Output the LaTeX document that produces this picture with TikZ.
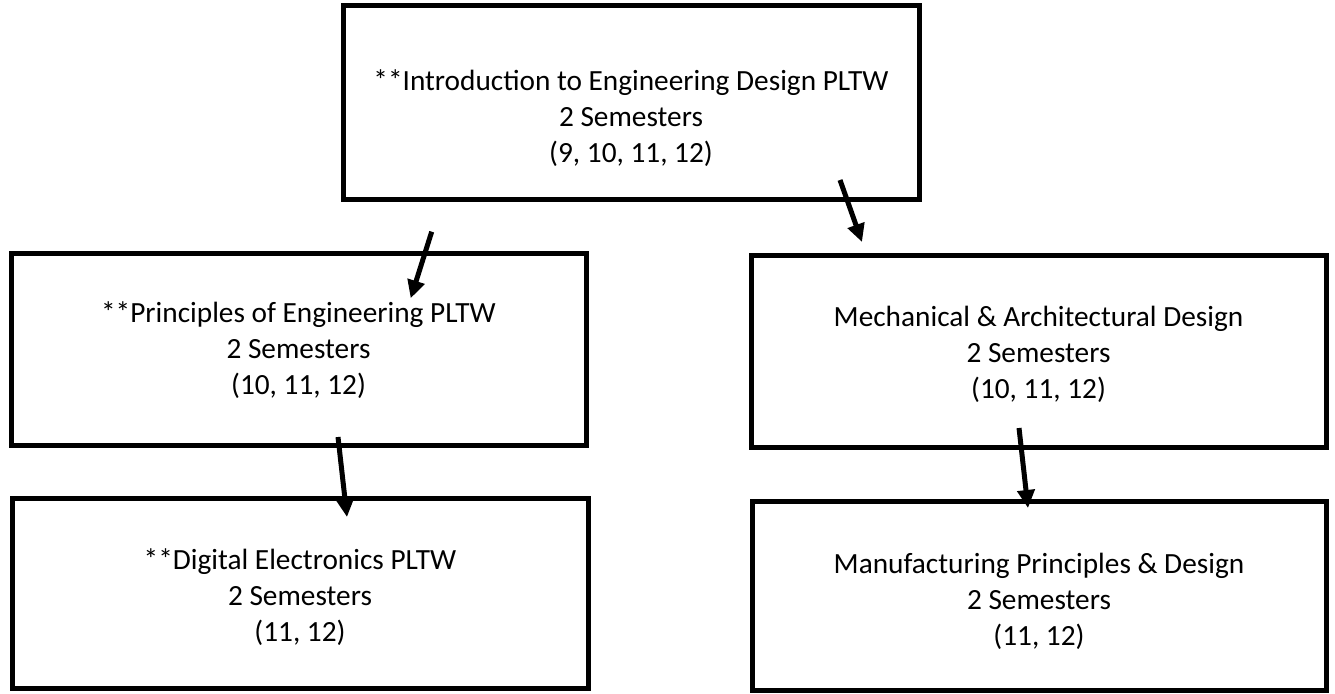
\documentclass[tikz,border=0pt]{standalone}
\usepackage{fontspec}
\setmainfont{Carlito}
\usetikzlibrary{arrows.meta}
\begin{document}
\begin{tikzpicture}[x=1pt,y=-1pt,
  box/.style={draw, line width=5pt, rectangle, inner sep=0pt},
  lbl/.style={align=center, font=\fontsize{29.3}{36}\selectfont, inner sep=0pt},
  conn/.style={line width=5pt, -{Triangle[length=18pt,width=17pt]}}]
\useasboundingbox (0,0) rectangle (1335,693);
% boxes
\node[box, minimum width=576pt, minimum height=193pt] (top) at (631,102.5) {};
\node[box, minimum width=575pt, minimum height=192pt] (midL) at (298.5,349) {};
\node[box, minimum width=575pt, minimum height=192pt] (midR) at (1038.5,351) {};
\node[box, minimum width=576pt, minimum height=190pt] (botL) at (300,593) {};
\node[box, minimum width=574pt, minimum height=189pt] (botR) at (1039,595.5) {};
% texts
\node[lbl] (tTop) at (631,118) {**Introduction to Engineering Design PLTW\\2 Semesters\\(9, 10, 11, 12)};
\node[lbl] (tMidL) at (298.5,350) {**Principles of Engineering PLTW\\2 Semesters\\(10, 11, 12)};
\node[lbl] (tMidR) at (1038.5,354) {Mechanical \& Architectural Design\\2 Semesters\\(10, 11, 12)};
\node[lbl] (tBotL) at (300,597) {**Digital Electronics PLTW\\2 Semesters\\(11, 12)};
\node[lbl] (tBotR) at (1039,601) {Manufacturing Principles \& Design\\2 Semesters\\(11, 12)};
% connector ends
\coordinate (a1s) at (431.7,231.7);
\coordinate (a1e) at (410.7,298.3);
\coordinate (a2s) at (840,180);
\coordinate (a2e) at (862,242);
\coordinate (a3s) at (338,437);
\coordinate (a3e) at (347,517);
\coordinate (a4s) at (1019,428);
\coordinate (a4e) at (1028,508);
\draw[conn] (a1s) -- (a1e);
\draw[conn] (a2s) -- (a2e);
\draw[conn] (a3s) -- (a3e);
\draw[conn] (a4s) -- (a4e);
\end{tikzpicture}
\end{document}
